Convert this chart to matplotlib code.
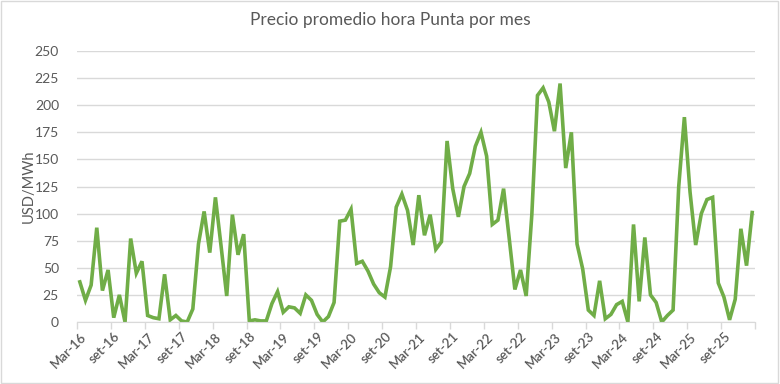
import numpy as np
import matplotlib
matplotlib.use("Agg")
from matplotlib import pyplot as plt
from matplotlib.patches import Rectangle

# monthly peak-hour price, Mar-16 .. Feb-26 (USD/MWh)
precio = [
    37, 20, 34, 87, 29, 48, 4, 25, 0, 77, 45, 56,
    6, 4, 3, 44, 2, 6, 1, 0, 12, 72, 102, 64,
    115, 70, 24, 99, 62, 81, 1, 2, 1, 1, 17, 28,
    9, 14, 13, 8, 25, 20, 7, 0, 5, 18, 93, 94,
    104, 54, 56, 47, 35, 27, 23, 51, 106, 118, 103, 71,
    117, 80, 99, 67, 74, 167, 123, 97, 125, 137, 162, 175,
    153, 90, 94, 123, 77, 30, 48, 24, 99, 209, 216, 203,
    176, 220, 142, 175, 72, 49, 11, 6, 38, 3, 7, 16,
    19, 0, 90, 19, 78, 25, 18, 0, 6, 11, 125, 189,
    120, 71, 100, 113, 115, 36, 23, 2, 21, 86, 52, 101,
]
tick_labels = [
    "Mar-16", "set-16", "Mar-17", "set-17", "Mar-18", "set-18", "Mar-19",
    "set-19", "Mar-20", "set-20", "Mar-21", "set-21", "Mar-22", "set-22",
    "Mar-23", "set-23", "Mar-24", "set-24", "Mar-25", "set-25",
]
yticks = list(range(0, 251, 25))

green = "#70AD47"
gray_text = "#595959"
grid_color = "#D9D9D9"

plt.rcParams["font.family"] = ["Lato", "DejaVu Sans"]

fig = plt.figure(figsize=(7.8, 3.84), dpi=100)
ax = fig.add_axes([77 / 780, 62 / 384, 678 / 780, 271 / 384])

x = np.arange(len(precio))
ax.plot(x, precio, color=green, linewidth=2.6, solid_joinstyle="miter")

ax.set_xlim(-0.5, len(precio) - 0.5)
ax.set_ylim(0, 250)
ax.set_yticks(yticks)
ax.yaxis.grid(True, color=grid_color, linewidth=1)
ax.set_axisbelow(True)

# labels every 6 months, tick marks on category boundaries
ax.set_xticks(np.arange(0, len(tick_labels) * 6, 6))
ax.set_xticklabels(tick_labels, rotation=45, ha="right", rotation_mode="anchor",
                   color=gray_text, fontsize=9.5, fontweight="semibold")
ax.tick_params(axis="x", which="major", length=0, pad=6)
ax.set_xticks(np.arange(-0.5, len(precio), 6), minor=True)
ax.tick_params(axis="x", which="minor", length=5, color=grid_color, width=1)
ax.tick_params(axis="y", length=0, labelcolor=gray_text, labelsize=10, pad=13)

for s in ["top", "right", "left"]:
    ax.spines[s].set_visible(False)
ax.spines["bottom"].set_color(grid_color)

ax.set_ylabel("USD/MWh", color=gray_text, fontsize=10.5, labelpad=-1)
fig.text(0.5, 1 - 20 / 384, "Precio promedio hora Punta por mes", ha="center", va="center",
         color=gray_text, fontsize=12.5)

fig.patches.append(Rectangle((0.001, 0.002), 0.997, 0.995, transform=fig.transFigure,
                             fill=False, edgecolor=grid_color, linewidth=1))

fig.savefig("out.png", dpi=100)
